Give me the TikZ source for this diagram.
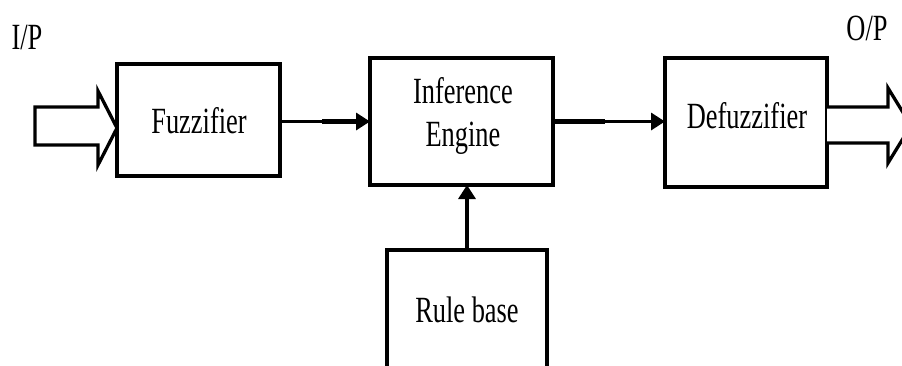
\documentclass[tikz,border=0pt]{standalone}
\usepackage{fontspec}
\setmainfont{Liberation Serif}
\usetikzlibrary{arrows.meta,calc}
\newcommand\sx[1]{\scalebox{0.8}[1.12]{#1}}
\begin{document}
\begin{tikzpicture}[x=1pt,y=-1pt,
  box/.style={draw, line width=3.3pt, inner sep=0pt, outer sep=0pt},
  txt/.style={font=\fontsize{33}{43}\selectfont, inner sep=0pt, align=center},
  conn/.style={line width=3.3pt, -{Triangle[length=14pt,width=17pt]}},
  thick seg/.style={line width=5.5pt},
  fat/.style={line width=3.3pt, fill=white, line join=miter}
]
\useasboundingbox (0,0) rectangle (902,365);
\clip (0,0) rectangle (902,365);
\fill[white] (0,0) rectangle (902,365);

% boxes
\node[box, minimum width=163pt, minimum height=112pt] (fuzz) at (198.5,120) {};
\node[txt] (fuzzT) at (199,121) {\sx{Fuzzifier}};
\node[box, minimum width=183pt, minimum height=127pt] (inf) at (461.5,121.5) {};
\node[txt] (infT) at (463,116) {\sx{Inference}\\\sx{Engine}};
\node[box, minimum width=162pt, minimum height=129pt] (defuzz) at (746,122.5) {};
\node[txt] (defuzzT) at (747,116) {\sx{Defuzzifier}};
\node[box, minimum width=160pt, minimum height=140pt] (rule) at (467,320) {};
\node[txt] (ruleT) at (467,310) {\sx{Rule base}};

% labels
\node[txt] (ip) at (27,37) {\sx{I/P}};
\node[txt] (op) at (867,28) {\sx{O/P}};

% connectors
\draw[conn] (fuzz.east |- inf.west) -- (inf.west);
\draw[thick seg] ($(inf.west)+(-48,0)$) -- ($(inf.west)+(-12,0)$);
\draw[conn] (inf.east) -- (defuzz.west |- inf.east);
\draw[thick seg] (inf.east) -- ($(inf.east)+(52,0)$);
\draw[conn] (rule.north |- rule.north) -- (rule.north |- inf.south);

% fat input/output arrows
\draw[fat] (35,107) -- (98,107) -- (98,91) -- (fuzz.west |- 0,128) -- (98,165) -- (98,145) -- (35,145) -- cycle;
\draw[fat] (defuzz.east |- 0,107) -- (888,107) -- (888,88) -- (911,125.5) -- (888,163) -- (888,143) -- (defuzz.east |- 0,143);
\end{tikzpicture}
\end{document}
